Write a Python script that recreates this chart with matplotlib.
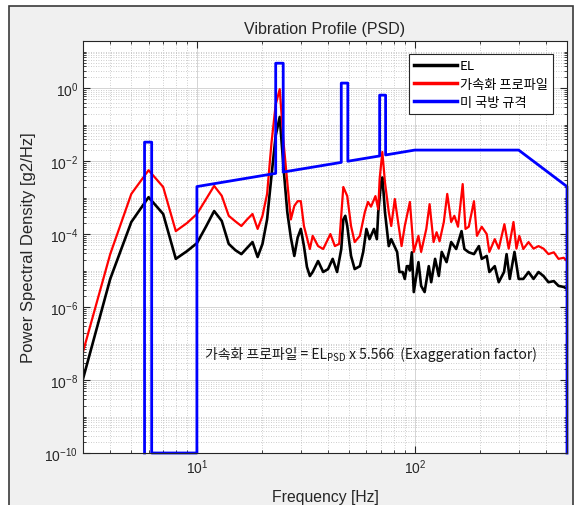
import numpy as np
import matplotlib
matplotlib.use("Agg")
import matplotlib.pyplot as plt
from matplotlib.patches import Rectangle
from matplotlib.ticker import FixedLocator, LogFormatterSciNotation, NullFormatter

# ---------------- data ----------------
el_freq = [3, 4, 5, 6, 7, 8, 9, 10, 11, 12, 13, 14, 15, 16, 17, 18, 19, 20, 21, 22, 23, 24,
           25, 26, 27, 28, 29, 30, 31, 32, 33, 34, 36, 38, 40, 42, 44, 46, 47, 48, 49, 51,
           53, 56, 58, 60, 62, 65, 67, 68, 70, 71, 72, 73, 76, 78, 83, 85, 88, 90, 92, 94,
           95, 97, 99, 104, 107, 111, 116, 119, 124, 129, 133, 140, 147, 155, 164, 169, 177,
           187, 197, 203, 214, 220, 233, 243, 257, 264, 273, 287, 300, 315, 333, 351, 370,
           390, 411, 435, 457, 483, 500]
el_log = [-7.97, -5.23, -3.67, -2.99, -3.45, -4.68, -4.47, -4.25, -3.80, -3.37, -3.64, -4.27,
          -4.44, -4.55, -4.38, -4.22, -4.63, -4.27, -3.60, -2.40, -1.30, -0.79,
          -2.20, -3.40, -4.10, -4.60, -4.10, -3.86, -4.33, -4.90, -5.15, -5.04, -4.74, -5.04,
          -4.96, -4.68, -5.04, -4.41, -3.60, -3.50, -3.78, -4.60,
          -4.96, -4.88, -4.49, -3.86, -4.14, -3.86, -4.14, -3.40, -2.60, -2.45, -2.90, -3.40,
          -4.33, -4.14, -4.49, -5.04, -5.04, -5.23, -4.88, -4.88,
          -5.00, -4.50, -5.59, -4.77, -5.42, -5.59, -4.88, -5.32, -4.68, -5.15, -4.49, -4.77,
          -4.22, -4.41, -3.92, -4.41, -4.50,
          -4.55, -4.33, -4.68, -4.60, -5.04, -4.88, -5.32, -5.04, -4.55, -5.23, -4.49, -5.23,
          -5.23, -5.04, -5.23, -5.04, -5.15, -5.32, -5.29, -5.42, -5.45, -5.50]

acc_freq = [3, 4, 5, 6, 7, 8, 9, 10, 11, 12, 13, 14, 15, 16, 17, 18, 19, 20, 21, 22, 23, 24,
            25, 26, 27, 28, 29, 30, 31, 33, 34, 36, 38, 41, 43, 45, 47, 49, 51, 53, 56, 59,
            61, 63, 66, 68, 69, 71, 73, 76, 78, 81, 84, 87, 90, 95, 99, 104, 107, 113, 117,
            122, 126, 130, 136, 141, 147, 152, 158, 166, 171, 177, 187, 193, 203, 214, 220,
            233, 243, 258, 270, 284, 293, 302, 315, 333, 351, 370, 390, 411, 435, 457, 483, 500]
acc_log = [-7.23, -4.55, -2.90, -2.25, -2.71, -3.92, -3.70, -3.45, -3.05, -2.68, -2.95, -3.50,
           -3.65, -3.78, -3.60, -3.45, -3.86, -3.50, -2.90, -1.50, -0.45, -0.03,
           -1.50, -2.58, -3.60, -3.23, -3.10, -3.10, -3.78, -4.41, -4.05, -4.33, -4.41, -4.00,
           -4.33, -4.27, -2.71, -2.96, -3.78, -4.22, -4.05, -3.40,
           -3.12, -3.25, -2.96, -3.32, -2.49, -1.75, -2.58, -3.40, -3.78, -3.04, -3.70, -4.33,
           -3.78, -3.12, -4.49, -4.05, -4.49, -3.86, -3.18,
           -4.22, -3.95, -4.20, -3.67, -2.90, -3.67, -3.50, -3.80, -2.63, -3.86, -3.80, -3.10,
           -4.05, -3.80, -4.00, -4.49,
           -4.14, -4.40, -3.73, -4.40, -3.67, -4.40, -4.05, -4.41, -4.22, -4.40, -4.33, -4.40,
           -4.55, -4.50, -4.68, -4.65, -4.74]

std_freq = [5.75, 5.75, 6.2, 6.2, 10, 10, 23, 23, 24.9, 24.9, 46, 46, 49.3, 49.3,
            69, 69, 73.5, 73.5, 100, 300, 500, 500]
std_val = [1e-10, 0.033, 0.033, 1e-10, 1e-10, 0.002, 0.0046, 4.8, 4.8, 0.005, 0.0092, 1.37,
           1.37, 0.0099, 0.0138, 0.64, 0.64, 0.0147, 0.02, 0.02, 0.002, 1e-10]

labels = ["EL", "가속화 프로파일", "미 국방 규격"]
y_major = [1e-10, 1e-8, 1e-6, 1e-4, 1e-2, 1e0]
x_major = [10, 100]

# ---------------- figure ----------------
W, H = 581, 506
fig = plt.figure(figsize=(W / 100, H / 100), dpi=100, facecolor="white")
fig.patches.append(Rectangle((9 / W, -0.05), (573 - 9) / W, 1.05 - 7 / H,
                             transform=fig.transFigure, facecolor="#f0f0f0",
                             edgecolor="#3a3a3a", linewidth=1.2, zorder=-10))

L, R, T, B = 83, 567, 42, 454
ax = fig.add_axes([L / W, 1 - B / H, (R - L) / W, (B - T) / H])
ax.set_facecolor("white")

ax.plot(el_freq, 10.0 ** np.array(el_log), color="black", lw=1.9, label=labels[0])
ax.plot(acc_freq, 10.0 ** np.array(acc_log), color="#ff0000", lw=1.6, label=labels[1])
ax.plot(std_freq, std_val, color="#0000ff", lw=2.0, label=labels[2], clip_on=False)

ax.set_xscale("log")
ax.set_yscale("log")
ax.set_xlim(3, 500)
ax.set_ylim(1e-10, 10 ** 1.29)

ax.yaxis.set_major_locator(FixedLocator(y_major))
ymin = [k * 10.0 ** e for e in range(-10, 2) for k in range(1, 10)
        if not (k == 1 and e % 2 == 0)]
ax.yaxis.set_minor_locator(FixedLocator(ymin))
ax.xaxis.set_major_locator(FixedLocator(x_major))
xmin = [k * 10.0 ** e for e in range(0, 3) for k in range(1, 10) if k != 1]
ax.xaxis.set_minor_locator(FixedLocator(xmin))
ax.xaxis.set_major_formatter(LogFormatterSciNotation())
ax.yaxis.set_major_formatter(LogFormatterSciNotation())
ax.xaxis.set_minor_formatter(NullFormatter())
ax.yaxis.set_minor_formatter(NullFormatter())

ax.tick_params(which="both", direction="in", top=True, right=True, colors="#262626",
               labelsize=10)
ax.tick_params(which="major", length=5)
ax.tick_params(which="minor", length=2.5)
for sp in ax.spines.values():
    sp.set_color("#262626")
    sp.set_linewidth(0.8)

ax.grid(which="major", color="#d4d4d4", lw=0.7, ls="-")
ax.grid(which="minor", color="#bdbdbd", lw=0.6, ls=(0, (1, 2)))
ax.set_axisbelow(True)

fam = ["Liberation Sans", "DejaVu Sans"]
ax.set_title("Vibration Profile (PSD)", fontsize=11.5, family=fam, color="#262626", pad=6)
ax.set_xlabel("Frequency [Hz]", fontsize=11.3, family=fam, color="#262626", labelpad=9)
ax.set_ylabel("Power Spectral Density [g2/Hz]", fontsize=12, family=fam, color="#262626",
              labelpad=6)
for lab in ax.get_xticklabels() + ax.get_yticklabels():
    lab.set_family(fam)

leg = ax.legend(loc="upper right", bbox_to_anchor=(0.971, 0.968), borderaxespad=0,
                frameon=True, fancybox=False, edgecolor="#262626", framealpha=1,
                handlelength=3.2, handletextpad=0.25, borderpad=0.4, labelspacing=0.4,
                prop={"family": ["Noto Sans CJK KR", "DejaVu Sans"], "size": 9.5})
leg.get_frame().set_linewidth(0.8)
for line in leg.get_lines():
    line.set_linewidth(2.5)

# annotation pieces: (text, fontsize, vertical offset px)
kfam = ["Noto Sans CJK KR", "DejaVu Sans"]
fig.canvas.draw()
rend = fig.canvas.get_renderer()
x0, y0 = 205, 355
parts = [("가속화 프로파일 = EL", 10, 0), ("PSD", 7, -3),
         (" x 5.566  (Exaggeration factor)", 10, 0)]
xp = x0
for txt, fs, dy in parts:
    t = fig.text(xp / W, 1 - (y0 - dy) / H, txt, fontsize=fs, family=kfam, color="#1a1a1a",
                 va="center", ha="left")
    bb = t.get_window_extent(renderer=rend)
    xp += bb.width

fig.savefig("out.png", dpi=100, facecolor=fig.get_facecolor())
